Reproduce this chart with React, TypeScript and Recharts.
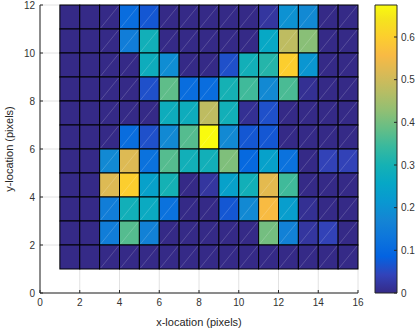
import {
  ScatterChart,
  Scatter,
  XAxis,
  YAxis,
  CartesianGrid,
  ReferenceArea,
} from "recharts";

// cell left edges (x) and bottom edges (y, top row first)
const xCells = [1, 2, 3, 4, 5, 6, 7, 8, 9, 10, 11, 12, 13, 14, 15];
const yRows = [11, 10, 9, 8, 7, 6, 5, 4, 3, 2, 1];

// intensity per cell, one row per yRows entry
const values = [
  [0, 0, 0, 0.11, 0.07, 0, 0, 0, 0, 0, 0.02, 0.2, 0.18, 0, 0],
  [0, 0, 0, 0.15, 0.29, 0, 0, 0, 0, 0, 0.26, 0.48, 0.42, 0, 0],
  [0, 0, 0, 0, 0.28, 0.19, 0, 0, 0.06, 0.29, 0.32, 0.6, 0.21, 0, 0],
  [0, 0, 0, 0, 0.06, 0.38, 0.11, 0.11, 0.3, 0.35, 0.18, 0.36, 0.01, 0, 0],
  [0, 0, 0, 0, 0, 0.28, 0.28, 0.48, 0.29, 0.01, 0.06, 0, 0, 0, 0],
  [0, 0, 0, 0.11, 0.06, 0.18, 0.37, 0.675, 0.18, 0.07, 0.07, 0, 0, 0, 0],
  [0, 0, 0.18, 0.52, 0.12, 0.37, 0.29, 0.29, 0.41, 0.1, 0.24, 0.12, 0, 0.04, 0.04],
  [0, 0, 0.52, 0.6, 0.24, 0.3, 0, 0.02, 0.24, 0.29, 0.53, 0.35, 0, 0, 0],
  [0, 0, 0.15, 0.29, 0.27, 0.12, 0, 0, 0.07, 0.18, 0.56, 0.23, 0.01, 0, 0],
  [0, 0, 0.15, 0.37, 0.16, 0, 0, 0, 0, 0, 0.4, 0.16, 0.02, 0.04, 0],
  [0, 0, 0, 0, 0, 0, 0, 0, 0, 0, 0, 0, 0, 0, 0],
];

const xTicks = [0, 2, 4, 6, 8, 10, 12, 14, 16];
const yTicks = [0, 2, 4, 6, 8, 10, 12];
const cbTicks = [0, 0.1, 0.2, 0.3, 0.4, 0.5, 0.6];
const cbMax = 0.675;

// parula colormap stops [t, r, g, b]
const PARULA: number[][] = [
  [0, 53, 42, 135],
  [0.063, 50, 67, 186],
  [0.127, 3, 99, 225],
  [0.19, 13, 117, 220],
  [0.254, 20, 133, 212],
  [0.317, 9, 152, 209],
  [0.381, 6, 167, 198],
  [0.444, 21, 177, 180],
  [0.508, 56, 185, 158],
  [0.571, 101, 190, 134],
  [0.635, 146, 191, 115],
  [0.698, 183, 189, 100],
  [0.762, 217, 186, 86],
  [0.825, 248, 186, 68],
  [0.889, 252, 206, 46],
  [0.952, 245, 228, 29],
  [1, 249, 251, 14],
];

function parula(v: number) {
  const t = Math.min(1, Math.max(0, v / cbMax));
  let i = 0;
  while (i < PARULA.length - 2 && t > PARULA[i + 1][0]) i++;
  const a = PARULA[i];
  const b = PARULA[i + 1];
  const f = (t - a[0]) / (b[0] - a[0]);
  const c = [1, 2, 3].map((k) => Math.round(a[k] + (b[k] - a[k]) * f));
  return `rgb(${c[0]},${c[1]},${c[2]})`;
}

const FONT = '"Liberation Sans", Arial, Helvetica, sans-serif';
const AXIS = "#262626";
const tickStyle = { fontSize: 10, fill: "#333", fontFamily: FONT };

const cells = yRows.flatMap((y, r) =>
  xCells.map((x, c) => ({ x, y, v: values[r][c] }))
);

// eslint-disable-next-line @typescript-eslint/no-explicit-any
function CellShape(props: any) {
  const { x, y, width, height, fill, diag } = props;
  return (
    <g>
      <rect x={x} y={y} width={width} height={height} fill={fill} stroke="#000" strokeWidth={1} />
      {diag && (
        <line
          x1={x + 1}
          y1={y + height - 1}
          x2={x + width - 1}
          y2={y + 1}
          stroke="#fff"
          strokeOpacity={0.22}
          strokeWidth={0.8}
        />
      )}
    </g>
  );
}

export default function App() {
  return (
    <div style={{ position: "absolute", left: 0, top: 0, width: 417, height: 333, fontFamily: FONT }}>
      <div style={{ position: "absolute", left: 0, top: 0 }}>
        <ScatterChart width={417} height={333} margin={{ top: 5, right: 59, bottom: 0, left: 0 }}>
          <CartesianGrid stroke="#e2e2e2" />
          <XAxis
            type="number"
            dataKey="x"
            domain={[0, 16]}
            ticks={xTicks}
            interval={0}
            height={40}
            stroke={AXIS}
            tick={tickStyle}
            tickSize={-3}
            tickMargin={9}
            label={{
              value: "x-location (pixels)",
              position: "insideBottom",
              offset: 7,
              style: { fontSize: 11, fill: "#262626", fontFamily: FONT },
            }}
          />
          <YAxis
            type="number"
            dataKey="y"
            domain={[0, 12]}
            ticks={yTicks}
            interval={0}
            width={40}
            stroke={AXIS}
            tick={tickStyle}
            tickSize={-3}
            tickMargin={8}
            label={{
              value: "y-location (pixels)",
              angle: -90,
              position: "insideLeft",
              offset: 9,
              style: { fontSize: 11, fill: "#262626", fontFamily: FONT, textAnchor: "middle" },
            }}
          />
          <Scatter data={cells} fill="none" isAnimationActive={false} />
          {cells.map((d) => (
            <ReferenceArea
              key={`${d.x}-${d.y}`}
              x1={d.x}
              x2={d.x + 1}
              y1={d.y}
              y2={d.y + 1}
              fill={parula(d.v)}
              fillOpacity={1}
              shape={(p: any) => <CellShape {...p} fill={parula(d.v)} diag={d.x >= 3} />}
            />
          ))}
        </ScatterChart>
      </div>
      <div style={{ position: "absolute", left: 0, top: 0 }}>
        <ScatterChart width={417} height={333} margin={{ top: 5, right: 0, bottom: 40, left: 375 }}>
          <defs>
            <linearGradient id="parulaGrad" x1="0" y1="1" x2="0" y2="0">
              {PARULA.map((s) => (
                <stop key={s[0]} offset={s[0]} stopColor={`rgb(${s[1]},${s[2]},${s[3]})`} />
              ))}
            </linearGradient>
          </defs>
          <XAxis type="number" dataKey="x" domain={[0, 1]} hide />
          <YAxis
            type="number"
            dataKey="y"
            orientation="right"
            domain={[0, cbMax]}
            ticks={cbTicks}
            interval={0}
            width={20}
            axisLine={false}
            stroke={AXIS}
            tick={{ ...tickStyle, textAnchor: "start" }}
            tickSize={-3}
            tickMargin={7}
          />
          <Scatter data={[{ x: 0.5, y: 0 }]} fill="none" isAnimationActive={false} />
          <ReferenceArea
            x1={0}
            x2={1}
            y1={0}
            y2={cbMax}
            fill="url(#parulaGrad)"
            fillOpacity={1}
            stroke={AXIS}
            strokeWidth={1}
          />
        </ScatterChart>
      </div>
    </div>
  );
}
